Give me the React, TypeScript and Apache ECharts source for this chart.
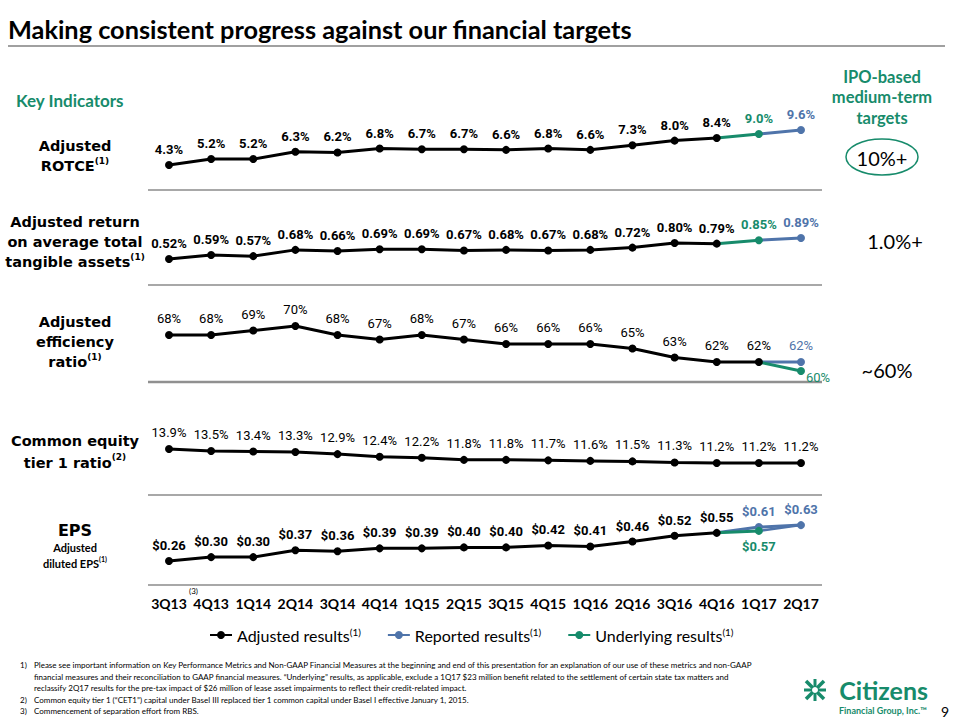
import React, { useEffect, useRef } from "react";
import * as echarts from "echarts";

const N = null;
const quarters = ["3Q13", "4Q13", "1Q14", "2Q14", "3Q14", "4Q14", "1Q15", "2Q15", "3Q15", "4Q15", "1Q16", "2Q16", "3Q16", "4Q16", "1Q17", "2Q17"];

const rotceAdjusted = [4.3, 5.2, 5.2, 6.3, 6.2, 6.8, 6.7, 6.7, 6.6, 6.8, 6.6, 7.3, 8.0, 8.4, N, N];
const rotceUnderlying = [N, N, N, N, N, N, N, N, N, N, N, N, N, N, 9.0, N];
const rotceReported = [N, N, N, N, N, N, N, N, N, N, N, N, N, N, N, 9.6];

const rotaAdjusted = [0.52, 0.59, 0.57, 0.68, 0.66, 0.69, 0.69, 0.67, 0.68, 0.67, 0.68, 0.72, 0.80, 0.79, N, N];
const rotaUnderlying = [N, N, N, N, N, N, N, N, N, N, N, N, N, N, 0.85, N];
const rotaReported = [N, N, N, N, N, N, N, N, N, N, N, N, N, N, N, 0.89];

const effAdjusted = [68, 68, 69, 70, 68, 67, 68, 67, 66, 66, 66, 65, 63, 62, 62, N];
const effReported = [N, N, N, N, N, N, N, N, N, N, N, N, N, N, N, 62];
const effUnderlying = [N, N, N, N, N, N, N, N, N, N, N, N, N, N, N, 60];

const cet1Adjusted = [13.9, 13.5, 13.4, 13.3, 12.9, 12.4, 12.2, 11.8, 11.8, 11.7, 11.6, 11.5, 11.3, 11.2, 11.2, 11.2];

const epsAdjusted = [0.26, 0.30, 0.30, 0.37, 0.36, 0.39, 0.39, 0.40, 0.40, 0.42, 0.41, 0.46, 0.52, 0.55, N, N];
const epsReported = [N, N, N, N, N, N, N, N, N, N, N, N, N, N, 0.61, 0.63];
const epsUnderlying = [N, N, N, N, N, N, N, N, N, N, N, N, N, N, 0.57, N];

const targets = ["10%+", "1.0%+", "~60%"];

const BLACK = "#000000";
const BLUE = "#4f74aa";
const GREEN = "#178b6b";
const GRAY = "#a8a8a8";
const LABEL_FONT = "'Liberation Sans Narrow', 'Roboto', sans-serif";

// layout of the five panels (grid placement + axis range)
const rows = [
  { top: 120.8, height: 59.4, min: 2, max: 11, fmt: (v: number) => v.toFixed(1) + "%", bold: true },
  { top: 231.7, height: 34.1, min: 0.4, max: 1.0, fmt: (v: number) => v.toFixed(2) + "%", bold: true },
  { top: 317, height: 63, min: 58, max: 72, fmt: (v: number) => v.toFixed(0) + "%", bold: false },
  { top: 443.2, height: 26, min: 10, max: 15, fmt: (v: number) => v.toFixed(1) + "%", bold: false },
  { top: 518.3, height: 48.5, min: 0.2, max: 0.7, fmt: (v: number) => "$" + v.toFixed(2), bold: true },
];

const anchor = (vals: (number | null)[], idx: number, v: number | null) =>
  vals.map((x, i) => (i === idx ? { value: v, symbol: "none", label: { show: false } } : x));

function mkSeries(name: string | undefined, row: number, data: any[], color: string, labelOpts: any = {}, extra: any = {}) {
  const r = rows[row];
  return {
    type: "line",
    name,
    xAxisIndex: row,
    yAxisIndex: row,
    data,
    symbol: "circle",
    symbolSize: 8,
    color,
    itemStyle: { color },
    lineStyle: { color, width: 3 },
    z: extra.z ?? 2,
    label: {
      show: true,
      position: "top",
      distance: 5,
      color,
      fontSize: 13,
      fontWeight: r.bold ? "bold" : "normal",
      fontFamily: LABEL_FONT,
      formatter: (p: any) => r.fmt(Number(p.value)),
      ...labelOpts,
    },
    ...extra,
  };
}

function buildOption() {
  const series: any[] = [
    // ROTCE
    mkSeries("Adjusted results", 0, rotceAdjusted, BLACK, {}, { z: 3 }),
    mkSeries("Underlying results", 0, anchor(rotceUnderlying, 13, rotceAdjusted[13]), GREEN),
    mkSeries("Reported results", 0, anchor(rotceReported, 14, rotceUnderlying[14]), BLUE),
    // ROTA
    mkSeries("Adjusted results", 1, rotaAdjusted, BLACK, {}, { z: 3 }),
    mkSeries("Underlying results", 1, anchor(rotaUnderlying, 13, rotaAdjusted[13]), GREEN),
    mkSeries("Reported results", 1, anchor(rotaReported, 14, rotaUnderlying[14]), BLUE),
    // Efficiency
    mkSeries("Adjusted results", 2, effAdjusted, BLACK, { distance: 6 }, { z: 3 }),
    mkSeries("Reported results", 2, anchor(effReported, 14, effAdjusted[14]), BLUE, { distance: 6 }),
    mkSeries("Underlying results", 2, anchor(effUnderlying, 14, effAdjusted[14]), GREEN, { position: "right", distance: 1, offset: [0, 6] }),
    // CET1
    mkSeries("Adjusted results", 3, cet1Adjusted, BLACK, { distance: 6 }, { z: 3 }),
    // EPS
    mkSeries("Adjusted results", 4, epsAdjusted, BLACK, {}, { z: 3 }),
    mkSeries("Reported results", 4, anchor(epsReported, 13, epsAdjusted[13]), BLUE),
    mkSeries("Underlying results", 4, anchor(epsUnderlying, 13, epsAdjusted[13]), GREEN, { position: "bottom", distance: 5 }),
    {
      type: "line",
      xAxisIndex: 4,
      yAxisIndex: 4,
      symbol: "none",
      lineStyle: { color: BLUE, width: 2.5 },
      data: quarters.map((_, i) => (i === 14 ? epsUnderlying[14] : i === 15 ? epsReported[15] : null)),
      z: 1,
    },
  ];

  const txt = (x: number, y: number, text: string, o: any = {}) => ({
    type: "text",
    x,
    y,
    silent: true,
    style: {
      text,
      fill: o.fill ?? BLACK,
      fontSize: o.fontSize ?? 14,
      fontWeight: o.fontWeight ?? "normal",
      fontFamily: o.fontFamily ?? "Lato",
      align: o.align ?? "left",
      textAlign: o.align ?? "left",
      verticalAlign: "middle",
      textVerticalAlign: "middle",
      lineHeight: o.lineHeight,
      rich: o.rich,
    },
  });
  const hline = (y: number, x1: number, x2: number, w = 2, c = GRAY) => ({
    type: "line",
    silent: true,
    shape: { x1, y1: y, x2, y2: y },
    style: { stroke: c, lineWidth: w },
  });

  const rowLabelRich = {
    s: { fontSize: 9, fontWeight: "bold", fontFamily: "DejaVu Sans", verticalAlign: "top", lineHeight: 12 },
  };
  const rowLabel = (y: number, text: string, lh = 20) =>
    txt(75, y, text, { fontSize: 14.5, fontWeight: "bold", fontFamily: "DejaVu Sans", align: "center", lineHeight: lh, rich: rowLabelRich });

  const footnotes = [
    ["1)", "Please see important information on Key Performance Metrics and Non-GAAP Financial Measures at the beginning and end of this presentation for an explanation of our use of these metrics and non-GAAP"],
    ["", "financial measures and their reconciliation to GAAP financial measures. \u201cUnderlying\u201d results, as applicable, exclude a 1Q17 $23 million benefit related to the settlement of certain state tax matters and"],
    ["", "reclassify 2Q17 results for the pre-tax impact of $26 million of lease asset impairments to reflect their credit-related impact."],
    ["2)", "Common equity tier 1 (\u201cCET1\u201d) capital under Basel III replaced tier 1 common capital under Basel I effective January 1, 2015."],
    ["3)", "Commencement of separation effort from RBS."],
  ];

  const graphics: any[] = [
    txt(8, 29, "Making consistent progress against our financial targets", { fontSize: 25.3, fontWeight: "bold" }),
    hline(46, 8, 945, 2, "#a0a0a0"),
    txt(16, 100, "Key Indicators", { fontSize: 17, fontWeight: "bold", fill: GREEN }),
    txt(882, 97, "IPO-based\nmedium-term\ntargets", { fontSize: 16.5, fontWeight: "bold", fill: GREEN, align: "center", lineHeight: 20.5 }),
    { type: "ellipse", silent: true, shape: { cx: 882, cy: 157, rx: 36, ry: 18 }, style: { fill: "none", stroke: GREEN, lineWidth: 1.5 } },
    txt(882, 158, targets[0], { fontSize: 20, align: "center" }),
    txt(895, 241, targets[1], { fontSize: 20, align: "center" }),
    txt(887, 370, targets[2], { fontSize: 20, align: "center" }),
    rowLabel(156, "Adjusted\nROTCE{s|(1)}"),
    rowLabel(242, "Adjusted return\non average total\ntangible assets{s|(1)}"),
    rowLabel(342, "Adjusted\nefficiency\nratio{s|(1)}"),
    rowLabel(452, "Common equity\ntier 1 ratio{s|(2)}", 22),
    txt(75, 530, "EPS", { fontSize: 16, fontWeight: "bold", fontFamily: "DejaVu Sans", align: "center" }),
    txt(75, 555, "Adjusted\ndiluted EPS{s|(1)}", {
      fontSize: 11, fontWeight: "bold", fontFamily: "Lato", align: "center", lineHeight: 16,
      rich: { s: { fontSize: 7, fontWeight: "bold", fontFamily: "Lato", verticalAlign: "top", lineHeight: 10 } },
    }),
    hline(190, 148, 822),
    hline(285, 148, 822),
    hline(382, 148, 822, 2.5, "#909090"),
    hline(495, 148, 822),
    hline(585, 148, 822),
    txt(189, 591, "(3)", { fontSize: 8 }),
    txt(945, 711, "9", { fontSize: 14, align: "center" }),
    txt(928, 690, "Citizens", { fontSize: 25, fontWeight: "bold", fill: GREEN, align: "right" }),
    txt(927, 710, "Financial Group, Inc.\u2122", { fontSize: 9, fontWeight: "bold", fill: GREEN, align: "right" }),
    // logo mark
    { type: "line", silent: true, shape: { x1: 806, y1: 681, x2: 824, y2: 699 }, style: { stroke: GREEN, lineWidth: 3.5 } },
    { type: "line", silent: true, shape: { x1: 824, y1: 681, x2: 806, y2: 699 }, style: { stroke: GREEN, lineWidth: 3.5 } },
    { type: "line", silent: true, shape: { x1: 804, y1: 690, x2: 826, y2: 690 }, style: { stroke: GREEN, lineWidth: 3 } },
    { type: "line", silent: true, shape: { x1: 815, y1: 679, x2: 815, y2: 701 }, style: { stroke: GREEN, lineWidth: 3 } },
    { type: "circle", silent: true, shape: { cx: 815, cy: 690, r: 3 }, style: { fill: "#fff" } },
  ];
  footnotes.forEach((f, i) => {
    const y = 665 + i * 11.6;
    if (f[0]) graphics.push(txt(20, y, f[0], { fontSize: 8 }));
    graphics.push(txt(34, y, f[1], { fontSize: 8 }));
  });

  return {
    animation: false,
    backgroundColor: "#ffffff",
    textStyle: { fontFamily: "Lato" },
    grid: rows.map((r) => ({ left: 169, width: 632, top: r.top, height: r.height, containLabel: false })),
    xAxis: rows.map((r, i) => ({
      gridIndex: i,
      type: "category",
      data: quarters,
      boundaryGap: false,
      axisLine: { show: false },
      axisTick: { show: false },
      splitLine: { show: false },
      axisLabel:
        i === 4
          ? { show: true, margin: 30, fontSize: 14, fontWeight: "bold", fontFamily: "Lato", color: BLACK, interval: 0 }
          : { show: false },
    })),
    yAxis: rows.map((r, i) => ({ gridIndex: i, type: "value", min: r.min, max: r.max, show: false, splitLine: { show: false } })),
    legend: {
      data: ["Adjusted results", "Reported results", "Underlying results"],
      left: 204,
      top: 622,
      itemWidth: 22,
      itemHeight: 10,
      itemGap: 26,
      selectedMode: false,
      formatter: (name: string) => name + "{s|(1)}",
      textStyle: {
        fontFamily: "Lato",
        fontSize: 16,
        color: BLACK,
        rich: { s: { fontSize: 10, fontFamily: "Lato", color: BLACK, verticalAlign: "top", lineHeight: 12 } },
      },
    },
    series,
    graphic: { elements: graphics },
  };
}

export default function App() {
  const ref = useRef<HTMLDivElement>(null);
  useEffect(() => {
    if (!ref.current) return;
    const chart = echarts.init(ref.current, undefined, { renderer: "svg" });
    chart.setOption(buildOption() as any);
    return () => chart.dispose();
  }, []);
  return <div ref={ref} style={{ position: "absolute", left: 0, top: 0, width: 960, height: 720 }} />;
}
